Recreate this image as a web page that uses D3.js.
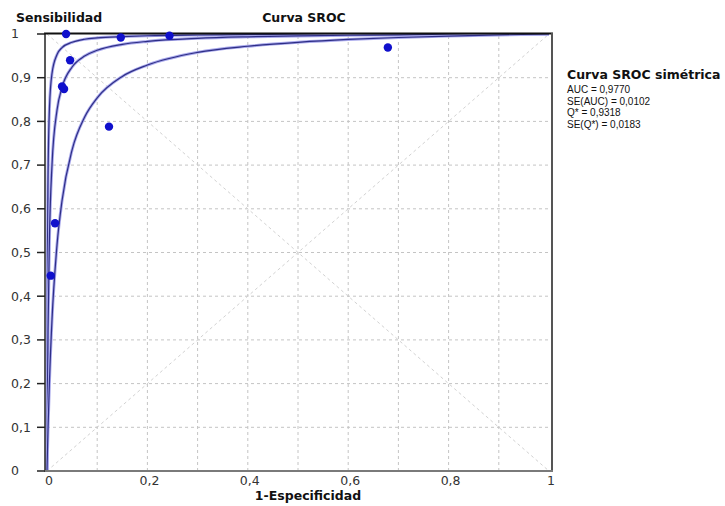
<!DOCTYPE html>
<meta charset="utf-8">
<style>
  body { margin: 0; background: #fff; }
  text { font-family: "DejaVu Sans", sans-serif; fill: #111; }
  .ttl { font-weight: bold; font-size: 12.5px; }
  .tick text { font-size: 12.5px; fill: #333; }
  .stats text { font-family: "Liberation Sans", Arial, sans-serif; font-size: 10px; }
  .grid line { stroke: #c4c4c4; stroke-dasharray: 3,3; }
</style>
<svg id="chart" width="725" height="506"></svg>
<script src="https://d3js.org/d3.v7.min.js"></script>
<script>
// study points (1-specificity, sensitivity)
var studyFpr  = [0.038, 0.147, 0.244, 0.679, 0.046, 0.030, 0.034, 0.1235, 0.016, 0.0074];
var studySens = [1.000, 0.992, 0.996, 0.969, 0.940, 0.880, 0.874, 0.788,  0.567, 0.447];

// SROC curve and its bands
var curveFpr   = [0, 0.001, 0.002, 0.005, 0.01, 0.02, 0.03, 0.05, 0.075, 0.1, 0.15, 0.2, 0.3, 0.4, 0.5, 0.6, 0.7, 0.8, 0.9, 1];
var sensUpper  = [0, 0.500, 0.667, 0.834, 0.910, 0.953, 0.969, 0.981, 0.988, 0.991, 0.994, 0.996, 0.9977, 0.9985, 0.999, 0.9993, 0.9996, 0.9998, 0.9999, 1];
var sensSroc   = [0, 0.189, 0.318, 0.539, 0.701, 0.826, 0.878, 0.9245, 0.9496, 0.9627, 0.9762, 0.9831, 0.9901, 0.9936, 0.9957, 0.9971, 0.9982, 0.9989, 0.9995, 1];
var sensLower  = [0, 0.050, 0.095, 0.209, 0.347, 0.518, 0.619, 0.735, 0.810, 0.854, 0.903, 0.929, 0.958, 0.972, 0.981, 0.9875, 0.992, 0.9953, 0.9979, 1];

var xTicks = [0, 0.2, 0.4, 0.6, 0.8, 1];
var yTicks = [0, 0.1, 0.2, 0.3, 0.4, 0.5, 0.6, 0.7, 0.8, 0.9, 1];
var gridVals = [0.1, 0.2, 0.3, 0.4, 0.5, 0.6, 0.7, 0.8, 0.9];

var statTitle = "Curva SROC simétrica";
var statLines = ["AUC = 0,9770", "SE(AUC) = 0,0102", "Q* = 0,9318", "SE(Q*) = 0,0183"];

var svg = d3.select("#chart");
var locale = d3.formatLocale({decimal: ",", thousands: ".", grouping: [3], currency: ["", ""]});
var fmt = function(d) { return locale.format("~g")(d); };

var x = d3.scaleLinear().domain([0, 1]).range([47, 549]);
var y = d3.scaleLinear().domain([0, 1]).range([471, 34]);

var plot = svg.append("g");

// grid
plot.append("g").attr("class", "grid")
  .selectAll("line").data(gridVals).enter().append("line")
  .attr("x1", d => x(d)).attr("x2", d => x(d))
  .attr("y1", y(0)).attr("y2", y(1));
plot.append("g").attr("class", "grid")
  .selectAll("line").data(gridVals).enter().append("line")
  .attr("x1", x(0)).attr("x2", x(1))
  .attr("y1", d => y(d)).attr("y2", d => y(d));

// diagonals
plot.append("line")
  .attr("x1", x(0)).attr("y1", y(0)).attr("x2", x(1)).attr("y2", y(1))
  .attr("stroke", "#d2d2d2").attr("stroke-dasharray", "3,3");
plot.append("line")
  .attr("x1", x(0)).attr("y1", y(1)).attr("x2", x(1)).attr("y2", y(0))
  .attr("stroke", "#d2d2d2").attr("stroke-dasharray", "3,3");

svg.append("clipPath").attr("id", "clip")
  .append("rect").attr("x", 44).attr("y", 33).attr("width", 508).attr("height", 439);

var line = d3.line().x(d => x(d[0])).y(d => y(d[1])).curve(d3.curveMonotoneX);
var curves = [sensUpper, sensSroc, sensLower];
var cg = plot.append("g").attr("clip-path", "url(#clip)");
curves.forEach(function(s) {
  var pts = curveFpr.map((f, i) => [f, s[i]]);
  cg.append("path").attr("d", line(pts))
    .attr("fill", "none").attr("stroke", "#a9a9ec").attr("stroke-width", 3);
  cg.append("path").attr("d", line(pts))
    .attr("fill", "none").attr("stroke", "#2e2e86").attr("stroke-width", 1.2);
});

// frame
plot.append("line").attr("x1", 45).attr("x2", 45).attr("y1", 33).attr("y2", 472)
  .attr("stroke", "#222").attr("stroke-width", 1.5);
plot.append("line").attr("x1", 44).attr("x2", 553).attr("y1", 33.5).attr("y2", 33.5)
  .attr("stroke", "#111").attr("stroke-width", 2);
plot.append("line").attr("x1", 552).attr("x2", 552).attr("y1", 33).attr("y2", 472)
  .attr("stroke", "#555").attr("stroke-width", 2);
plot.append("line").attr("x1", 44).attr("x2", 553).attr("y1", 471).attr("y2", 471)
  .attr("stroke", "#7a7a7a").attr("stroke-width", 2);

// y axis ticks
var yAxis = svg.append("g").attr("class", "tick");
yAxis.selectAll("line").data(yTicks).enter().append("line")
  .attr("x1", 37).attr("x2", 45).attr("y1", d => y(d)).attr("y2", d => y(d))
  .attr("stroke", "#222").attr("stroke-width", 1.5);
yAxis.selectAll("text").data(yTicks).enter().append("text")
  .attr("x", 11).attr("y", d => y(d)).attr("dy", "0.35em")
  .text(fmt);

// x axis labels
svg.append("g").attr("class", "tick").selectAll("text").data(xTicks).enter().append("text")
  .attr("x", d => x(d) + 2).attr("y", 485).attr("text-anchor", "middle")
  .text(fmt);

// study points
plot.selectAll("circle").data(studyFpr).enter().append("circle")
  .attr("cx", d => x(d)).attr("cy", (d, i) => y(studySens[i]))
  .attr("r", 4.2).attr("fill", "#1010cc");

// titles
svg.append("text").attr("class", "ttl").attr("x", 16).attr("y", 22).text("Sensibilidad");
svg.append("text").attr("class", "ttl").attr("x", 304).attr("y", 22)
  .attr("text-anchor", "middle").text("Curva SROC");
svg.append("text").attr("class", "ttl").attr("x", 308).attr("y", 500)
  .attr("text-anchor", "middle").text("1-Especificidad");

// stats box
svg.append("text").attr("x", 567).attr("y", 79)
  .style("font-size", "12.5px").style("font-weight", "bold")
  .text(statTitle);
var stats = svg.append("g").attr("class", "stats")
  .attr("transform", "translate(567,0)");
stats.selectAll("text").data(statLines).enter().append("text")
  .attr("x", 0).attr("y", (d, i) => 93 + i * 11.5).text(d => d);
</script>
